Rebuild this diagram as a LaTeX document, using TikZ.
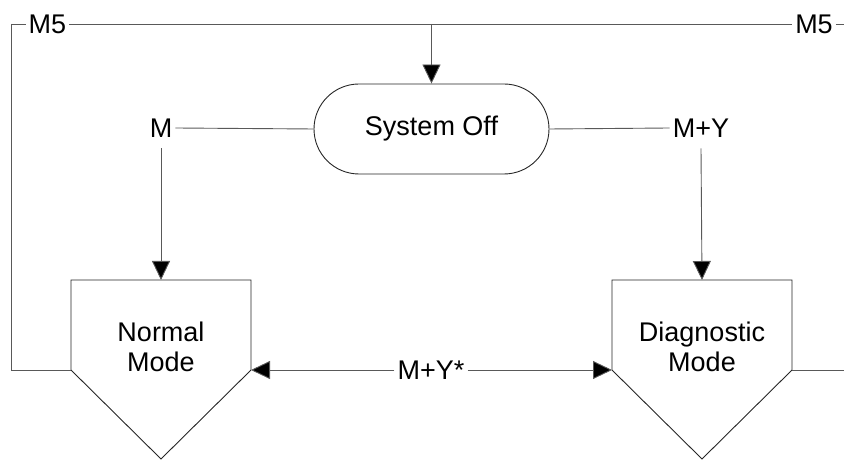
\documentclass[tikz,border=0pt]{standalone}
\usepackage{fontspec}
\setmainfont{Liberation Sans}
\usetikzlibrary{arrows.meta,shapes.misc}
\tikzset{
	lbl/.style={font=\fontsize{27}{30}\selectfont, inner sep=3pt},
	wire/.style={draw=black!65, line width=0.9pt},
	arr/.style={wire, -{Triangle[length=19pt,width=18pt,fill=black]}},
	modeline/.style={draw=black!85, line width=0.9pt},
	offnode/.style={rounded rectangle, draw=black!85, line width=0.9pt, minimum width=241pt, minimum height=90pt, lbl}
}

\begin{document}
\begin{tikzpicture}[x=1pt,y=1pt]
	\useasboundingbox (0,0) rectangle (844,460);
	% system off
	\node[offnode] (off) at (431.5,331) {System Off};
	% labels
	\node[lbl] (m5l) at (47.5,436) {M5};
	\node[lbl] (m5r) at (814,436) {M5};
	\node[lbl] (mlbl) at (161,332) {M};
	\node[lbl] (mylbl) at (701,332) {M+Y};
	\node[lbl] (mystar) at (431,90) {M+Y*};
	% modes
	\node[lbl, align=center] (normal) at (161,113) {Normal\\Mode};
	\node[lbl, align=center] (diag) at (702,113) {Diagnostic\\Mode};
	\coordinate (ntop) at (161,180);
	\coordinate (nl) at (71,90);
	\coordinate (nr) at (251,90);
	\coordinate (dtop) at (702,180);
	\coordinate (dl) at (612,90);
	\coordinate (dr) at (792,90);
	\draw[modeline] (nl) -- (71,180) -- (251,180) -- (nr) -- (161,1) -- cycle;
	\draw[modeline] (dl) -- (612,180) -- (792,180) -- (dr) -- (702,1) -- cycle;
	% outer loop
	\coordinate (ltop) at (11,436);
	\coordinate (lbot) at (11,90);
	\coordinate (rtop) at (844,436);
	\coordinate (rbot) at (844,90);
	\coordinate (offin) at (431.5,436);
	\draw[wire] (ltop) -- (m5l.west);
	\draw[wire] (m5l.east) -- (m5r.west);
	\draw[wire] (m5r.east) -- (rtop);
	\draw[wire] (ltop) -- (lbot) -- (nl);
	\draw[wire] (dr) -- (rbot);
	\draw[arr] (offin) -- (off.north);
	% from system off
	\draw[wire] (off.west) -- (mlbl.east);
	\draw[wire] (off.east) -- (mylbl.west);
	\draw[arr] ([yshift=-8pt]mlbl.south) -- (ntop);
	\draw[arr] ([yshift=-8pt]mylbl.south) -- (dtop);
	% between modes
	\draw[arr] (mystar.west) -- (nr);
	\draw[arr] (mystar.east) -- (dl);
\end{tikzpicture}
\end{document}
